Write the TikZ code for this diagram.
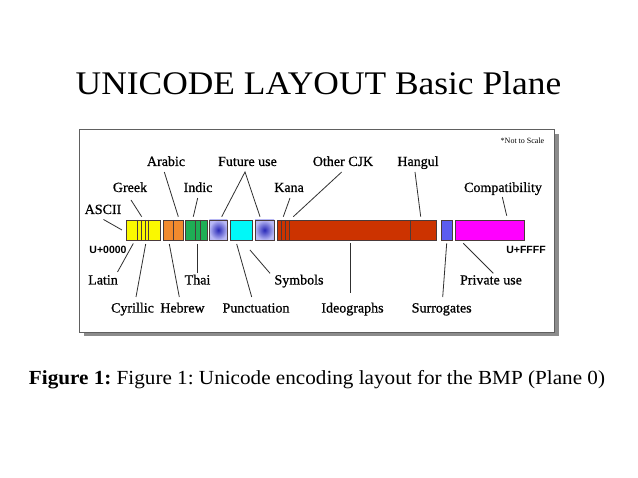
\documentclass[tikz,border=0pt]{standalone}
\usepackage{fontspec}
\setmainfont{Liberation Serif}
\newfontfamily\arialfont{Liberation Sans}
\newfontface\lblfont[FakeBold=0.8]{Liberation Serif}
\begin{document}
\begin{tikzpicture}[x=1pt,y=-1pt,
  seg/.style={draw=segborder,line width=0.9pt},
  lbl/.style={inner sep=0pt,anchor=base,font=\lblfont\fontsize{14}{14}\selectfont},
  lead/.style={draw=leadcol,line width=0.8pt},
  code/.style={inner sep=0pt,font=\arialfont\bfseries\fontsize{10.5}{10.5}\selectfont}]
\definecolor{segborder}{HTML}{4A3A3A}
\definecolor{leadcol}{HTML}{303030}
\definecolor{frameborder}{HTML}{606060}
\definecolor{shadowcol}{HTML}{8C8C8C}
\definecolor{cyellow}{HTML}{FAF800}
\definecolor{corange}{HTML}{F28A2E}
\definecolor{cgreen}{HTML}{1EAE55}
\definecolor{ccyan}{HTML}{00F8F8}
\definecolor{cred}{HTML}{CC3300}
\definecolor{cblue}{HTML}{5C5CF0}
\definecolor{cmagenta}{HTML}{FF00FF}
\definecolor{clav}{HTML}{B8B8F4}
\definecolor{cdeep}{HTML}{2828B8}
\frenchspacing
\useasboundingbox[fill=white] (0,0) rectangle (638,478);
% title
\node[inner sep=0pt,anchor=base,xscale=1.073,transform shape,font=\fontsize{33}{33}\selectfont] (title) at (318.5,95) {UNICODE LAYOUT Basic Plane};
% frame with shadow
\fill[shadowcol] (84,134) rectangle (559,336);
\draw[fill=white,draw=frameborder,line width=1pt] (79,130) rectangle (554,333);
\node[inner sep=0pt,font=\fontsize{8}{8}\selectfont] (nts) at (522.5,141) {*Not to Scale};
% segments
\path[seg,fill=cyellow] (126.7,220) rectangle (160.7,240);
\foreach \x in {137.3,141.3,145.3,148.7} \draw[segborder,line width=0.9pt] (\x,220) -- (\x,240);
\path[seg,fill=corange] (163.3,220) rectangle (183.3,240);
\draw[segborder,line width=0.9pt] (173.3,220) -- (173.3,240);
\path[seg,fill=cgreen] (185.7,220) rectangle (207.3,240);
\foreach \x in {195.3,200} \draw[segborder,line width=0.9pt] (\x,220) -- (\x,240);
\shade[inner color=cdeep,outer color=clav] (209.3,220) rectangle (227.3,240);
\path[seg] (209.3,220) rectangle (227.3,240);
\path[seg,fill=ccyan] (230,220) rectangle (252.7,240);
\shade[inner color=cdeep,outer color=clav] (255,220) rectangle (274,240);
\path[seg] (255,220) rectangle (274,240);
\path[seg,fill=cred] (277.3,220) rectangle (436.7,240);
\foreach \x in {281.3,285.5,289.7,410} \draw[segborder,line width=0.9pt] (\x,220) -- (\x,240);
\path[seg,fill=cblue] (441,220) rectangle (452.7,240);
\path[seg,fill=cmagenta] (455.7,220) rectangle (524,240);
% top labels
\node[lbl] (arabic) at (166,166) {Arabic};
\node[lbl] (future) at (247.5,166) {Future use};
\node[lbl] (othercjk) at (343,166) {Other CJK};
\node[lbl] (hangul) at (418,166) {Hangul};
\node[lbl] (greek) at (130,192) {Greek};
\node[lbl] (indic) at (198,192) {Indic};
\node[lbl] (kana) at (289,192) {Kana};
\node[lbl] (compat) at (503,192) {Compatibility};
\node[lbl] (ascii) at (103,214) {ASCII};
\node[code] (u0) at (108,249.5) {U+0000};
\node[code] (uf) at (526,249.5) {U+FFFF};
% bottom labels
\node[lbl] (latin) at (103,284.5) {Latin};
\node[lbl] (thai) at (197.5,284.5) {Thai};
\node[lbl] (symbols) at (299,284.5) {Symbols};
\node[lbl] (private) at (491,284.5) {Private use};
\node[lbl] (cyrillic) at (132.5,312.5) {Cyrillic};
\node[lbl] (hebrew) at (182.5,312.5) {Hebrew};
\node[lbl] (punct) at (256,312.5) {Punctuation};
\node[lbl] (ideo) at (352.5,312.5) {Ideographs};
\node[lbl] (surr) at (441.7,312.5) {Surrogates};
% leader end points
\coordinate (a1) at (103.5,219.5); \coordinate (a2) at (122,230);
\coordinate (g1) at (131,200); \coordinate (g2) at (141.7,216.7);
\coordinate (ar1) at (164.3,172); \coordinate (ar2) at (178.3,216.7);
\coordinate (i1) at (197.7,198); \coordinate (i2) at (193.3,216.7);
\coordinate (f1) at (245,172); \coordinate (f2) at (221.7,216.7); \coordinate (f3) at (260,216.7);
\coordinate (k1) at (290,198); \coordinate (k2) at (283.3,216.7);
\coordinate (o1) at (341.7,172); \coordinate (o2) at (293.3,216.7);
\coordinate (h1) at (415,172); \coordinate (h2) at (420.7,216.7);
\coordinate (c1) at (502.3,197); \coordinate (c2) at (506.7,215.7);
\coordinate (l1) at (133.3,243.5); \coordinate (l2) at (117.5,272);
\coordinate (cy1) at (145.7,244); \coordinate (cy2) at (136,297);
\coordinate (he1) at (169.3,244); \coordinate (he2) at (179.3,297);
\coordinate (t1) at (197.7,244); \coordinate (t2) at (197.7,273.3);
\coordinate (p1) at (236.7,244); \coordinate (p2) at (251.7,297);
\coordinate (s1) at (250,250); \coordinate (s2) at (270,273.3);
\coordinate (id1) at (350,243.3); \coordinate (id2) at (350,293.3);
\coordinate (su1) at (446.7,243.3); \coordinate (su2) at (442.7,297);
\coordinate (pr1) at (463.3,243.3); \coordinate (pr2) at (493.3,273.3);
\foreach \s/\e in {a1/a2,g1/g2,ar1/ar2,i1/i2,k1/k2,o1/o2,h1/h2,c1/c2,l1/l2,cy1/cy2,he1/he2,t1/t2,p1/p2,s1/s2,id1/id2,su1/su2,pr1/pr2}
  \draw[lead] (\s) -- (\e);
\draw[lead] (f2) -- (f1) -- (f3);
% caption
\node[inner sep=0pt,anchor=base,xscale=1.058,transform shape,font=\fontsize{20}{20}\selectfont] (caption) at (317,385) {\textbf{Figure 1:} Figure 1: Unicode encoding layout for the BMP (Plane 0)};
\end{tikzpicture}
\end{document}
